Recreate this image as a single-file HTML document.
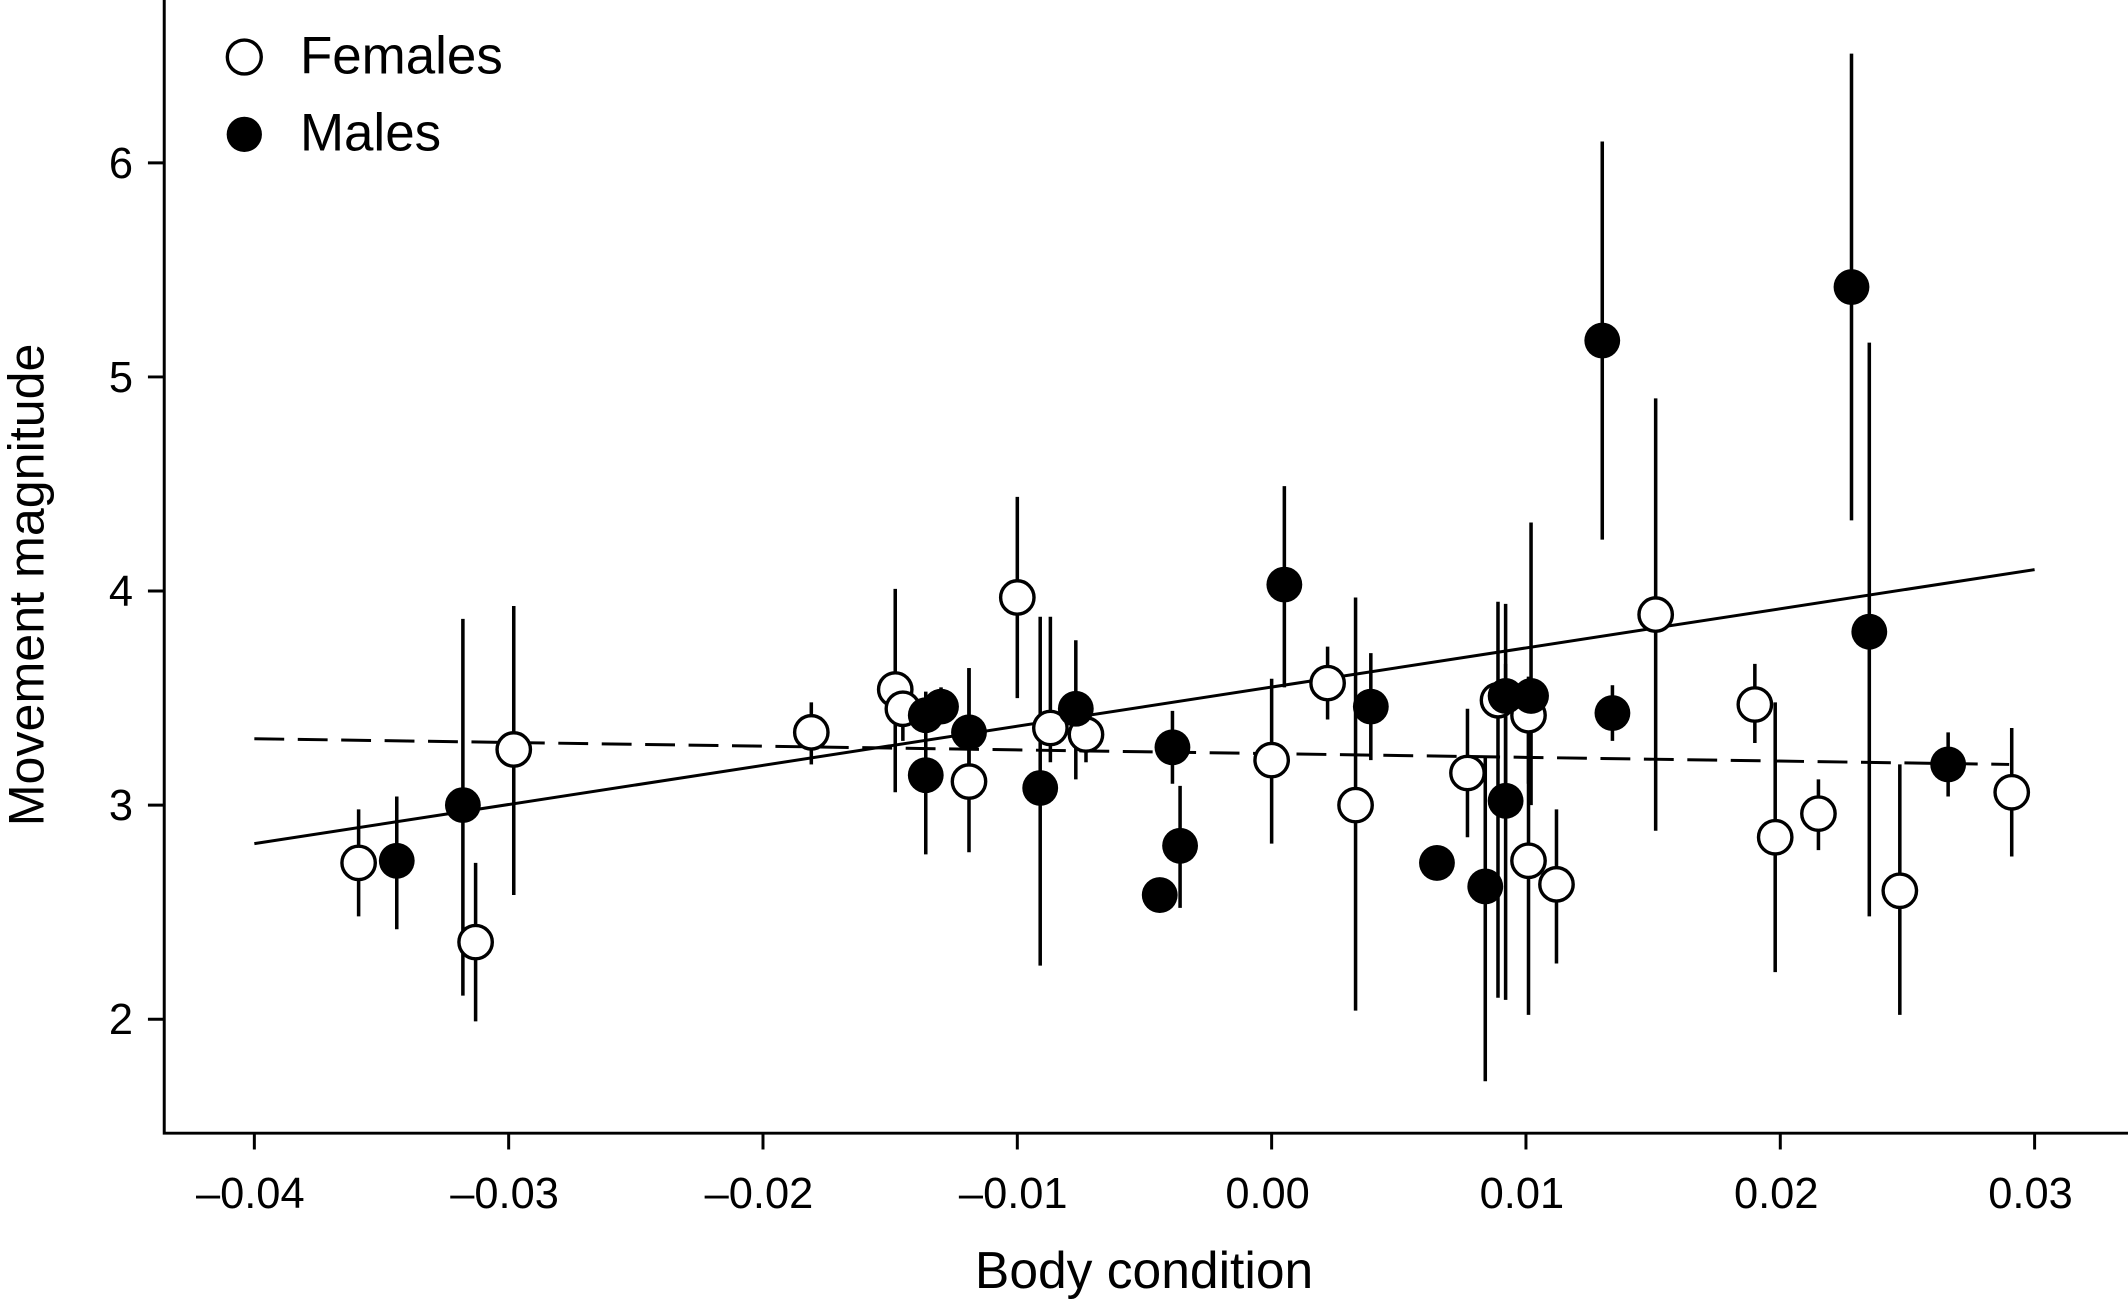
<!DOCTYPE html>
<html><head><meta charset="utf-8"><style>
html,body{margin:0;padding:0;background:#fff;}
svg{display:block;font-family:"Liberation Sans",Arial,sans-serif;}
</style></head><body>
<svg id="chart" width="2128" height="1307" viewBox="0 0 1568 963.07" xmlns="http://www.w3.org/2000/svg">
<g id="axes"></g>
<g id="bars"></g>
<g id="lines"></g>
<g id="pts"></g>
<g id="legend">
  <circle cx="180" cy="42" r="12.5" fill="#fff" stroke="#000" stroke-width="2.5"/>
  <text x="221" y="54" font-size="39">Females</text>
  <circle cx="180" cy="99" r="13" fill="#000"/>
  <text x="221" y="111" font-size="39">Males</text>
</g>
</svg>
<script>
const xTicks=[-0.04,-0.03,-0.02,-0.01,0,0.01,0.02,0.03];
const xTickLabels=["\u20130.04","\u20130.03","\u20130.02","\u20130.01","0.00","0.01","0.02","0.03"];
const yTicks=[2,3,4,5,6];
const femX=[-0.0359,-0.0313,-0.0298,-0.0181,-0.0148,-0.0145,-0.0119,-0.0100,-0.0087,-0.0073,0.0,0.0022,0.0033,0.0077,0.0089,0.0101,0.0101,0.0112,0.0151,0.0190,0.0198,0.0215,0.0247,0.0291];
const femY=[2.73,2.36,3.26,3.34,3.54,3.45,3.11,3.97,3.36,3.33,3.21,3.57,3.00,3.15,3.49,3.42,2.74,2.63,3.89,3.47,2.85,2.96,2.60,3.06];
const femLo=[2.48,1.99,2.58,3.19,3.06,3.30,2.78,3.50,3.20,3.20,2.82,3.40,2.04,2.85,2.10,3.10,2.02,2.26,2.88,3.29,2.22,2.79,2.02,2.76];
const femHi=[2.98,2.73,3.93,3.48,4.01,3.55,3.64,4.44,3.88,3.46,3.59,3.74,3.97,3.45,3.95,3.60,3.45,2.98,4.90,3.66,3.48,3.12,3.19,3.36];
const malX=[-0.0344,-0.0318,-0.0136,-0.0136,-0.0130,-0.0119,-0.0091,-0.0077,-0.0044,-0.0039,-0.0036,0.0005,0.0039,0.0065,0.0084,0.0092,0.0092,0.0102,0.0130,0.0134,0.0228,0.0235,0.0266];
const malY=[2.74,3.00,3.42,3.14,3.46,3.34,3.08,3.45,2.58,3.27,2.81,4.03,3.46,2.73,2.62,3.51,3.02,3.51,5.17,3.43,5.42,3.81,3.19];
const malLo=[2.42,2.11,3.31,2.77,3.40,3.05,2.25,3.12,2.58,3.10,2.52,3.55,3.21,2.73,1.71,3.08,2.09,3.00,4.24,3.30,4.33,2.48,3.04];
const malHi=[3.04,3.87,3.53,3.52,3.55,3.64,3.88,3.77,2.58,3.44,3.09,4.49,3.71,2.73,3.22,3.94,3.66,4.32,6.10,3.56,6.51,5.16,3.34];
const solidLine=[[-0.04,2.82],[0.03,4.10]];
const dashLine=[[-0.04,3.31],[0.029,3.19]];
const NS="http://www.w3.org/2000/svg";
function sx(v){return 937+v*18740;}
function sy(v){return 120+(6-v)*157.75;}
function mk(tag,attrs,parent,text){const e=document.createElementNS(NS,tag);for(const k in attrs)e.setAttribute(k,attrs[k]);if(text!==undefined)e.textContent=text;parent.appendChild(e);return e;}
const axes=document.getElementById('axes');
let e=mk('path',{d:'M121,0 V835 H1568',fill:'none',stroke:'#000','stroke-width':2.2},axes);


xTicks.forEach((t,i)=>{
  let l=mk('line',{x1:sx(t),x2:sx(t),y1:835,y2:847,stroke:'#000','stroke-width':2.2},axes);
  
  
  let tx=mk('text',{x:sx(t)-3,y:890,'font-size':32,'text-anchor':'middle'},axes,xTickLabels[i]);
  
  
});
yTicks.forEach(t=>{
  let l=mk('line',{x1:109,x2:121,y1:sy(t),y2:sy(t),stroke:'#000','stroke-width':2.2},axes);
  
  
  let tx=mk('text',{x:98,y:sy(t)+11,'font-size':32,'text-anchor':'end'},axes,String(t));
  
  
});
let xt=mk('text',{x:843,y:949,'font-size':38,'text-anchor':'middle'},axes,'Body condition');


let yt=mk('text',{x:0,y:0,'font-size':37,'text-anchor':'middle',transform:'translate(32,431) rotate(-90)'},axes,'Movement magnitude');


const bars=document.getElementById('bars'),pts=document.getElementById('pts'),lines=document.getElementById('lines');
function drawSeries(X,Y,Lo,Hi,fill,name){
  X.forEach((x,i)=>{
    let b=mk('line',{x1:sx(x),x2:sx(x),y1:sy(Lo[i]),y2:sy(Hi[i]),stroke:'#000','stroke-width':2.6},bars);
    
    
  });
  X.forEach((x,i)=>{
    let c=mk('circle',{cx:sx(x),cy:sy(Y[i]),r:fill==='#000'?13.2:12.3,fill:fill,stroke:'#000','stroke-width':fill==='#000'?0:2.5},pts);
    
    
  });
}
let s=mk('line',{x1:sx(solidLine[0][0]),y1:sy(solidLine[0][1]),x2:sx(solidLine[1][0]),y2:sy(solidLine[1][1]),stroke:'#000','stroke-width':2.2},lines);


let d=mk('line',{x1:sx(dashLine[0][0]),y1:sy(dashLine[0][1]),x2:sx(dashLine[1][0]),y2:sy(dashLine[1][1]),stroke:'#000','stroke-width':2.2,'stroke-dasharray':'22,10'},lines);


drawSeries(femX,femY,femLo,femHi,'#fff','female');
drawSeries(malX,malY,malLo,malHi,'#000','male');
</script>
</body></html>
